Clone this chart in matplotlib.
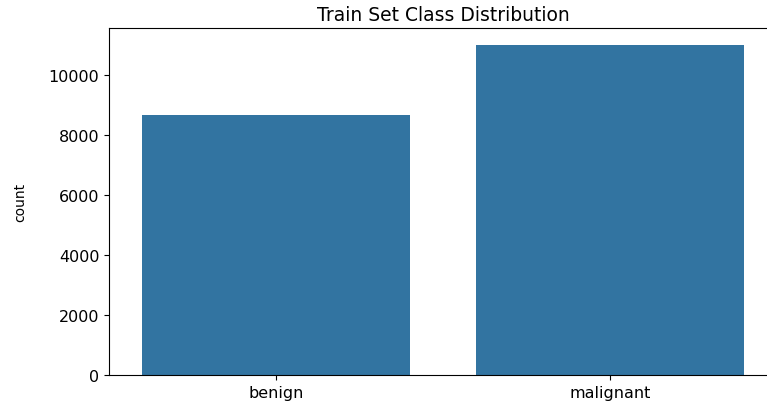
## Train set class distribution bar chart
import matplotlib
matplotlib.use("Agg")
import matplotlib.pyplot as plt
import seaborn as sns

classes = ["benign", "malignant"]
counts = [8650, 11000]

fig = plt.figure(figsize=(7.67, 4.02), dpi=100)
# axes runs a bit past the right edge, like the cropped original
ax = fig.add_axes([0.1421, 0.0647, 0.8709, 0.8632])
sns.barplot(x=classes, y=counts, ax=ax, color="#1f77b4", saturation=0.75)

ax.set_title("Train Set Class Distribution", fontsize=13.5)
ax.set_ylabel("count", fontsize=10, labelpad=15)
ax.set_xlabel("")
ax.tick_params(labelsize=11.5)
ax.spines["right"].set_visible(False)

fig.savefig("out.png", dpi=100)
